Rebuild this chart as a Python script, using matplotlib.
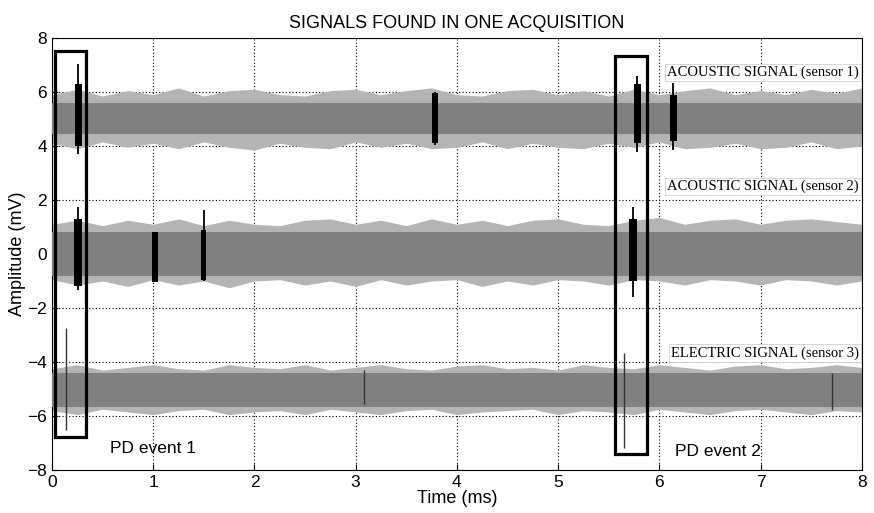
import matplotlib.pyplot as plt
import numpy as np

# envelope sample times (ms)
env_t = np.arange(0, 8.01, 0.25)

# sensor 1 (acoustic) - core band and outer spike envelope (mV)
s1_core = (4.45, 5.6)
s1_hi = [5.9, 6.1, 5.85, 6.05, 5.9, 6.15, 5.85, 6.05, 6.1, 5.9, 5.85, 6.05, 6.1, 5.9, 6.05, 6.15, 5.9,
         5.85, 6.05, 6.1, 5.9, 6.05, 5.85, 6.1, 5.9, 6.05, 6.15, 5.9, 6.05, 5.9, 6.1, 5.95, 6.15]
s1_lo = [4.1, 3.9, 4.15, 3.95, 4.1, 3.9, 4.15, 3.95, 3.85, 4.1, 3.95, 3.9, 4.15, 3.95, 4.1, 3.9, 3.95,
         4.15, 3.9, 4.1, 3.95, 3.9, 4.1, 3.95, 4.15, 3.9, 3.95, 4.1, 3.9, 3.95, 4.15, 3.9, 4.0]

# sensor 2 (acoustic)
s2_core = (-0.82, 0.8)
s2_hi = [1.1, 1.25, 1.05, 1.25, 1.1, 1.3, 1.05, 1.25, 1.1, 1.05, 1.25, 1.3, 1.1, 1.25, 1.05, 1.3, 1.1,
         1.25, 1.05, 1.25, 1.3, 1.1, 1.05, 1.25, 1.35, 1.1, 1.25, 1.3, 1.1, 1.25, 1.3, 1.2, 1.1]
s2_lo = [-0.95, -1.15, -1.0, -1.2, -0.95, -1.15, -1.0, -1.25, -1.0, -0.95, -1.15, -1.0, -1.2, -0.95,
         -1.15, -1.0, -0.95, -1.2, -1.0, -1.15, -0.95, -1.0, -1.15, -0.95, -1.0, -1.15, -0.95, -1.0,
         -1.15, -0.95, -1.0, -1.15, -1.0]

# sensor 3 (electric)
s3_core = (-5.67, -4.4)
s3_hi = [-4.25, -4.1, -4.3, -4.2, -4.1, -4.25, -4.3, -4.1, -4.2, -4.25, -4.1, -4.3, -4.2, -4.1,
         -4.25, -4.3, -4.15, -4.1, -4.25, -4.2, -4.3, -4.1, -4.2, -4.25, -4.1, -4.2, -4.3, -4.15, -4.1,
         -4.25, -4.2, -4.1, -4.2]
s3_lo = [-5.8, -5.95, -5.75, -5.85, -5.95, -5.8, -5.75, -5.95, -5.85, -5.8, -5.95, -5.75, -5.85,
         -5.95, -5.8, -5.75, -5.95, -5.85, -5.8, -5.75, -5.95, -5.8, -5.85, -5.95, -5.75, -5.85, -5.95,
         -5.8, -5.75, -5.85, -5.95, -5.8, -5.85]

# acoustic PD bursts (black)
burst_t = [0.26, 3.78, 5.78, 6.14, 0.26, 1.02, 1.50, 5.74]
burst_w = [0.07, 0.06, 0.07, 0.06, 0.08, 0.06, 0.05, 0.07]
burst_lo = [4.0, 4.1, 4.1, 4.2, -1.2, -1.05, -0.95, -1.0]
burst_hi = [6.3, 5.95, 6.3, 5.9, 1.3, 0.8, 0.9, 1.3]
peak_lo = [3.7, 4.05, 3.78, 3.85, -1.33, -1.05, -1.0, -1.6]
peak_hi = [7.05, 6.0, 6.6, 6.35, 1.75, 0.8, 1.63, 1.74]

# electric PD pulses
pulse_t = [0.14, 3.08, 5.65, 7.71]
pulse_lo = [-6.5, -5.55, -7.2, -5.78]
pulse_hi = [-2.74, -4.3, -3.67, -4.4]

# PD event boxes: (t0, t1, lo, hi)
boxes = [(0.03, 0.34, -6.78, 7.52), (5.56, 5.88, -7.41, 7.33)]

fig = plt.figure(figsize=(8.74, 5.13), dpi=100, facecolor='white')
ax = fig.add_axes([0.0595, 0.0838, 0.9265, 0.8422])

for core, hi, lo in [(s1_core, s1_hi, s1_lo), (s2_core, s2_hi, s2_lo), (s3_core, s3_hi, s3_lo)]:
    ax.fill_between(env_t, lo, hi, color='#b4b4b4', lw=0, zorder=2)
    ax.fill_between([0, 8], core[0], core[1], color='#808080', lw=0, zorder=3)

for t, w, lo, hi in zip(burst_t, burst_w, burst_lo, burst_hi):
    ax.bar(t, hi - lo, bottom=lo, width=w, color='black', lw=0, zorder=4)
ax.vlines(burst_t, peak_lo, peak_hi, color='black', lw=1.3, zorder=4)
ax.vlines(pulse_t, pulse_lo, pulse_hi, color='#333333', lw=1.0, zorder=4)

for t0, t1, lo, hi in boxes:
    ax.add_patch(plt.Rectangle((t0, lo), t1 - t0, hi - lo, fill=False, ec='black', lw=2.3, zorder=5))

lbl = dict(family='Liberation Serif', fontsize=10.5, ha='right', va='center', zorder=6,
           bbox=dict(facecolor='white', edgecolor='#d0d0d0', lw=0.6, pad=1.5))
ax.text(7.97, 6.72, 'ACOUSTIC SIGNAL (sensor 1)', **lbl)
ax.text(7.97, 2.5, 'ACOUSTIC SIGNAL (sensor 2)', **lbl)
ax.text(7.97, -3.67, 'ELECTRIC SIGNAL (sensor 3)', **lbl)

ax.text(0.57, -7.2, 'PD event 1', family='Liberation Sans', fontsize=12.5, va='center', zorder=6)
ax.text(6.15, -7.33, 'PD event 2', family='Liberation Sans', fontsize=12.5, va='center', zorder=6)

ax.set_xlim(0, 8)
ax.set_ylim(-8, 8)
ax.set_xticks(np.arange(0, 9, 1))
ax.set_yticks(np.arange(-8, 9, 2))
ax.grid(True, color='black', linestyle=(0, (1, 2)), lw=0.8)
ax.set_axisbelow(True)
ax.tick_params(direction='in', labelsize=12.5, length=4)
for lab in ax.get_xticklabels() + ax.get_yticklabels():
    lab.set_family('Liberation Sans')
ax.set_xlabel('Time (ms)', family='Liberation Sans', fontsize=13, labelpad=0)
ax.set_ylabel('Amplitude (mV)', family='Liberation Sans', fontsize=13, labelpad=1)
ax.set_title('SIGNALS FOUND IN ONE ACQUISITION', family='Liberation Sans', fontsize=13, pad=7)

fig.savefig('out.png', dpi=100)
